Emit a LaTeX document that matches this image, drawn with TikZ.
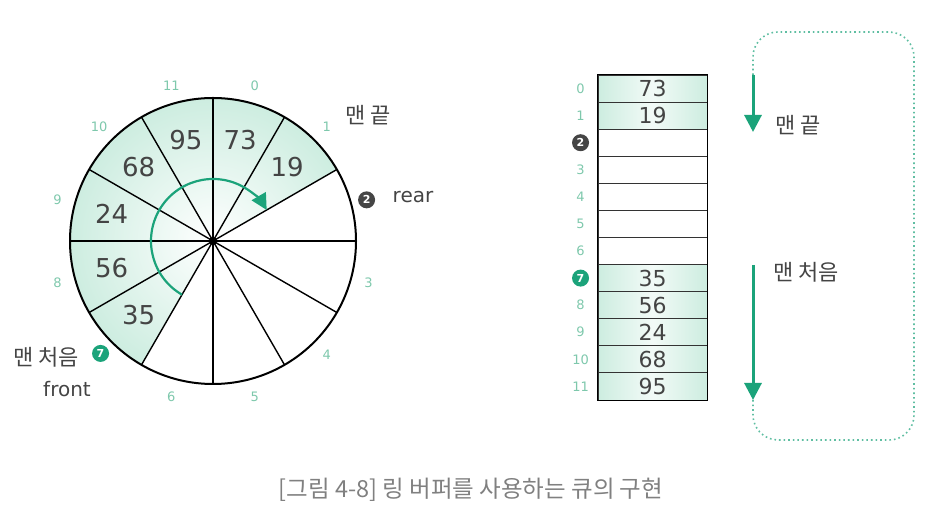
\documentclass[tikz,border=0pt]{standalone}
\usepackage{fontspec}
\setmainfont{DejaVu Sans}
\newfontfamily\kr{Noto Sans CJK KR}
\usetikzlibrary{arrows.meta,positioning}
\definecolor{mint}{HTML}{CDEDE0}
\definecolor{qgreen}{HTML}{1BA37A}
\definecolor{idxgreen}{HTML}{7EC8AC}
\definecolor{badgegray}{HTML}{454545}
\definecolor{txtgray}{HTML}{444444}

\tikzset{
  idx/.style={text=idxgreen, font=\fontsize{13}{13}\selectfont},
  val/.style={text=txtgray, font=\fontsize{26}{26}\selectfont},
  badge/.style={circle, fill=#1, text=white, inner sep=0pt, minimum size=17pt, font=\bfseries\fontsize{11}{11}\selectfont},
  cell/.style={draw=black!80, line width=0.9pt, minimum width=109pt, minimum height=27.08pt, inner sep=0pt, text=txtgray, font=\fontsize{22}{22}\selectfont},
  full/.style={cell, left color=mint, right color=mint, middle color=mint!25},
  note/.style={text=txtgray, font=\kr\fontsize{22}{22}\selectfont},
  word/.style={text=txtgray, font=\fontsize{20}{20}\selectfont},
  flow/.style={-{Triangle[length=17pt,width=17pt]}, line width=3pt, qgreen},
}

\begin{document}
\begin{tikzpicture}[x=1pt, y=1pt]
  \useasboundingbox (0,0) rectangle (945,516);
  % ring buffer
  \coordinate (ring) at (213,275);
  \begin{scope}
    \clip (ring) -- ++(30:143) arc[start angle=30, end angle=240, radius=143] -- cycle;
    \shade[inner color=white, outer color=mint] (ring) circle (143);
  \end{scope}
  \foreach \a in {0,30,...,330} \draw[line width=1.4pt] (ring) -- ++(\a:143);
  \draw[line width=2pt] (ring) circle (143);
  \fill (ring) circle (4);
  \foreach \i in {0,1,3,4,5,6,8,9,10,11}
    \node[idx] (r\i) at ([shift={({75-30*\i}:161)}]ring) {\i};
  \node[badge=badgegray] (r2) at ([shift={(15:159)}]ring) {2};
  \node[badge=qgreen] (r7) at ([shift={(-135:159)}]ring) {7};
  \foreach \i/\v in {0/73,1/19,7/35,8/56,9/24,10/68,11/95}
    \node[val] (v\i) at ([shift={({75-30*\i}:105)}]ring) {\v};
  \draw[qgreen, line width=2.2pt, -{Triangle[length=16pt,width=16pt]}]
    ([shift={(240:62)}]ring) arc[start angle=240, end angle=30, radius=62];
  \node[note] (ringend) at (368,401) {맨 끝};
  \node[word] (rear) at (413,319) {rear};
  \node[note] (ringstart) at (46,159) {맨 처음};
  \node[word] (front) at (67,127) {front};

  % array
  \begin{scope}[node distance=27.08pt]
    \node(c0)[full] at (652.5,427.46) {73};
    \node(c1)[full, below of=c0] {19};
    \node(c2)[cell, below of=c1] {};
    \node(c3)[cell, below of=c2] {};
    \node(c4)[cell, below of=c3] {};
    \node(c5)[cell, below of=c4] {};
    \node(c6)[cell, below of=c5] {};
    \node(c7)[full, below of=c6] {35};
    \node(c8)[full, below of=c7] {56};
    \node(c9)[full, below of=c8] {24};
    \node(c10)[full, below of=c9] {68};
    \node(c11)[full, below of=c10] {95};
  \end{scope}
  \draw[line width=1.8pt] (c0.north west) rectangle (c11.south east);
  \foreach \i in {0,1,3,4,5,6,8,9,10,11}
    \node[idx] (a\i) at ([xshift=-17pt]c\i.west) {\i};
  \node[badge=badgegray] (a2) at ([xshift=-17pt]c2.west) {2};
  \node[badge=qgreen] (a7) at ([xshift=-17pt]c7.west) {7};

  \coordinate (top1) at (753,441);
  \coordinate (tip1) at (753,384);
  \coordinate (top2) at (753,251);
  \coordinate (tip2) at (753,116);
  \draw[flow] (top1) -- (tip1);
  \draw[flow] (top2) -- (tip2);
  \draw[qgreen!70, line width=1.6pt, dash pattern=on 1.6pt off 3pt, rounded corners=25pt]
    (tip2) -- (753,76) -- (914,76) -- (914,484) -- (753,484) -- (top1);
  \node[note] (arrend) at (798,391) {맨 끝};
  \node[note] (arrstart) at (806,244) {맨 처음};

  \node[text=gray, font=\kr\fontsize{23.5}{23.5}\selectfont] (caption) at (471,26) {[그림 4-8] 링 버퍼를 사용하는 큐의 구현};
\end{tikzpicture}
\end{document}
